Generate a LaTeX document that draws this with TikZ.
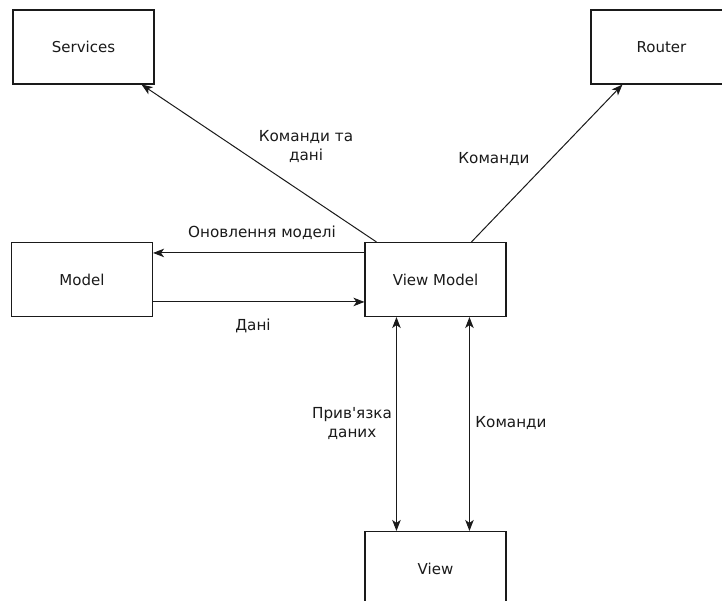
\documentclass[tikz,border=0pt]{standalone}
\usepackage{fontspec}
\setmainfont{DejaVu Sans}[Ligatures=TeXOff]
\usetikzlibrary{arrows.meta,calc}
\definecolor{ink}{HTML}{1A1A1A}
\begin{document}
\begin{tikzpicture}[x=1pt,y=-1pt,
  box/.style={draw=ink,line width=1.1pt,minimum width=141pt,minimum height=74pt,inner sep=0pt,
    text=ink,font=\fontsize{15}{17}\selectfont},
  conn/.style={draw=ink,line width=1pt,-{Stealth[length=11pt,width=8.5pt,inset=3pt]}},
  bidir/.style={draw=ink,line width=1pt,{Stealth[length=11pt,width=8.5pt,inset=3pt]}-{Stealth[length=11pt,width=8.5pt,inset=3pt]}},
  lbl/.style={text=ink,font=\fontsize{15.2}{19}\selectfont,align=center,inner sep=0pt}]
\clip (0,0) rectangle (722,601);
\fill[white] (0,0) rectangle (722,601);

% components
\node[box] (svc)  at (83.5,47)   {Services};
\node[box] (rtr)  at (661.5,47)  {Router};
\node[box] (mdl)  at (82,279.5)  {Model};
\node[box] (vm)   at (435.5,279.5) {View Model};
\node[box] (view) at (435.5,568.5) {View};

% connectors
\draw[conn] ($(vm.north west)+(12,0)$) -- ($(svc.south east)+(-13,0)$);
\draw[conn] ($(vm.north west)+(107,0)$) -- ($(rtr.south west)+(32,0)$);
\draw[conn] ($(vm.north west)+(0,11)$) -- ($(mdl.north east)+(0,11)$);
\draw[conn] ($(mdl.north east)+(0,60)$) -- ($(vm.north west)+(0,60)$);
\draw[bidir] ($(vm.south west)+(32,0)$) -- ($(view.north west)+(32,0)$);
\draw[bidir] ($(vm.south west)+(105,0)$) -- ($(view.north west)+(105,0)$);

% labels
\node[lbl] (l1) at (306,147) {Команди та\\дані};
\node[lbl] (l2) at (494,159) {Команди};
\node[lbl] (l3) at (262,233) {Оновлення моделі};
\node[lbl] (l4) at (253,326) {Дані};
\node[lbl] (l5) at (352,424) {Прив'язка\\даних};
\node[lbl] (l6) at (511,423) {Команди};
\end{tikzpicture}
\end{document}
